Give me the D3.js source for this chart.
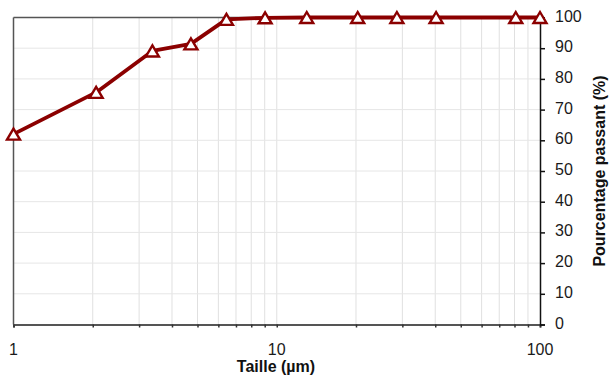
<!DOCTYPE html>
<html>
<head>
<meta charset="utf-8">
<script src="https://cdn.jsdelivr.net/npm/d3@7"></script>
<style>
  html, body { margin: 0; padding: 0; background: #fff; }
  svg { display: block; }
  text { font-family: "Liberation Sans", Arial, sans-serif; }
</style>
</head>
<body>
<svg id="chart" width="609" height="385"></svg>
<script>
// Data
const sizes = [1, 2.06, 3.37, 4.72, 6.44, 9.03, 13.0, 20.3, 28.6, 40.3, 80.9, 100];
const passing = [62, 75.6, 89.1, 91.4, 99.4, 99.9, 100, 100, 100, 100, 100, 100];
const xMajorTicks = [1, 10, 100];
const yTicks = [0, 10, 20, 30, 40, 50, 60, 70, 80, 90, 100];
const xTitle = "Taille (µm)";
const yTitle = "Pourcentage passant (%)";

(function () {
const svg = d3.select("#chart");
const pLeft = 13.5, pRight = 540, pTop = 17.5, pBottom = 324.5;
const red = "#8B0000";

const x = d3.scaleLog().domain([1, 100]).range([pLeft, pRight]);
const y = d3.scaleLinear().domain([0, 100]).range([pBottom, pTop]);

// minor log ticks
const xAll = [];
for (let d = 1; d < 100; d *= 10) for (let k = 1; k < 10; k++) xAll.push(d * k);
xAll.push(100);

// gridlines
const grid = svg.append("g");
grid.selectAll("line.v").data(xAll.filter(v => v > 1 && v < 100)).join("line")
  .attr("class", "v")
  .attr("x1", d => x(d)).attr("x2", d => x(d)).attr("y1", pTop).attr("y2", pBottom)
  .attr("stroke", "#e0e0e0").attr("stroke-width", 1);
grid.selectAll("line.h").data(yTicks.filter(v => v > 0 && v < 100)).join("line")
  .attr("class", "h")
  .attr("x1", pLeft).attr("x2", pRight).attr("y1", d => y(d)).attr("y2", d => y(d))
  .attr("stroke", "#e6e6e6").attr("stroke-width", 1);

// frame: left and top
svg.append("line").attr("x1", pLeft).attr("x2", pLeft).attr("y1", pTop).attr("y2", pBottom)
  .attr("stroke", "#555").attr("stroke-width", 1.5);
svg.append("line").attr("x1", pLeft).attr("x2", pRight).attr("y1", pTop).attr("y2", pTop)
  .attr("stroke", "#555").attr("stroke-width", 1.5);

// bottom axis
const xAxis = d3.axisBottom(x).tickValues(xAll).tickSize(3).tickFormat("");
const gx = svg.append("g").attr("transform", `translate(0,${pBottom})`).call(xAxis);
gx.select(".domain").attr("stroke", "#555").attr("stroke-width", 2);
gx.selectAll(".tick line").attr("stroke", "#333").attr("stroke-width", 1.5);
svg.append("g").selectAll("text").data(xMajorTicks).join("text")
  .attr("x", d => x(d)).attr("y", 355)
  .attr("text-anchor", "middle").attr("font-size", 16).attr("fill", "#1a1a1a")
  .text(d => d);

// right axis
const yAxis = d3.axisRight(y).tickValues(yTicks).tickSize(5).tickPadding(10);
const gy = svg.append("g").attr("transform", `translate(${pRight},0)`).call(yAxis);
gy.select(".domain").attr("stroke", "#111").attr("stroke-width", 1.5);
gy.selectAll(".tick line").attr("stroke", "#111").attr("stroke-width", 1.5);
gy.selectAll(".tick text").attr("font-size", 16).attr("fill", "#1a1a1a")
  .attr("font-family", "Liberation Sans, Arial, sans-serif").attr("dy", "0.22em");

// titles
svg.append("text").attr("x", 276).attr("y", 372).attr("text-anchor", "middle")
  .attr("font-size", 16).attr("font-weight", "bold").attr("fill", "#111").text(xTitle);
svg.append("text").attr("transform", `translate(605,${(pTop + pBottom) / 2}) rotate(-90)`)
  .attr("text-anchor", "middle").attr("font-size", 16).attr("font-weight", "bold")
  .attr("fill", "#111").text(yTitle);

// series
const pts = sizes.map((s, i) => [s, passing[i]]);
svg.append("path").datum(pts)
  .attr("d", d3.line().x(d => x(d[0])).y(d => y(d[1])))
  .attr("fill", "none").attr("stroke", red).attr("stroke-width", 3.8).attr("stroke-linejoin", "round");

svg.append("g").selectAll("path").data(pts).join("path")
  .attr("transform", d => `translate(${x(d[0])},${y(d[1])})`)
  .attr("d", "M0,-5.5 L6.5,5.5 L-6.5,5.5 Z")
  .attr("fill", "#fff").attr("stroke", red).attr("stroke-width", 2.4);
})();
</script>
</body>
</html>
